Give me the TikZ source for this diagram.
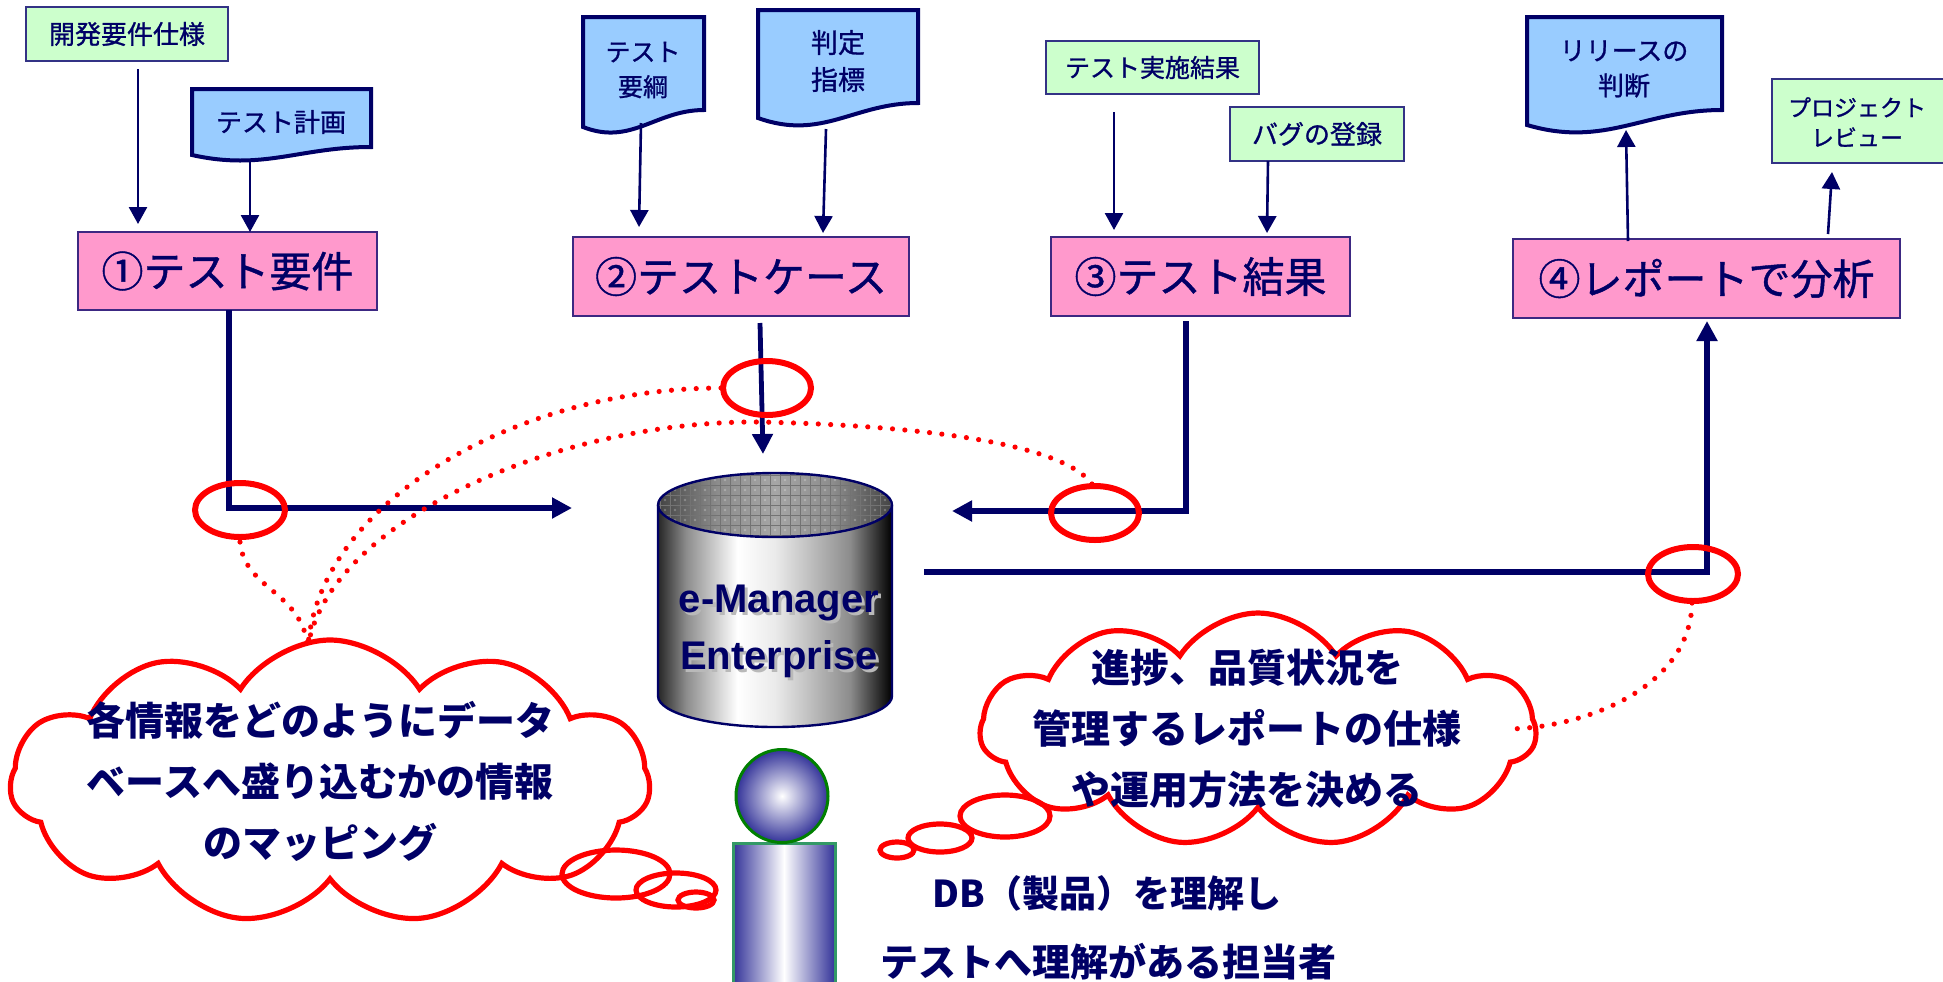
\documentclass[tikz,border=0pt]{standalone}
\usepackage{fontspec}
\usetikzlibrary{arrows.meta,shapes.symbols,shapes.geometric,fit,calc}
\newfontfamily\jp{Noto Sans CJK JP}
\newfontfamily\jpm[FakeBold=1.0]{Noto Sans CJK JP}
\newfontfamily\arialf{Liberation Sans}
\definecolor{navy}{RGB}{0,0,102}
\definecolor{pinkfill}{RGB}{255,153,204}
\definecolor{greenfill}{RGB}{204,255,204}
\definecolor{docblue}{RGB}{153,204,255}
\definecolor{personblue}{RGB}{51,51,153}
\definecolor{seagreen}{RGB}{51,153,102}
\definecolor{headgreen}{RGB}{0,128,0}
\definecolor{boxedge}{RGB}{60,40,130}
\pgfdeclarehorizontalshading{cylshade}{100bp}{color(0bp)=(black!85); color(25bp)=(black!85); color(31bp)=(black!45); color(42bp)=(white); color(50bp)=(white!92!black); color(66bp)=(black!45); color(75bp)=(black); color(100bp)=(black)}
\pgfdeclarehorizontalshading{lidshade}{100bp}{color(0bp)=(black!75); color(25bp)=(black!75); color(38bp)=(black!45); color(50bp)=(black!35); color(62bp)=(black!45); color(75bp)=(black!75); color(100bp)=(black!75)}

% document symbol with a wavy lower edge: x1, top, x2, left bottom, right bottom, dip
\newcommand\docshape[6]{%
  \filldraw[docstyle] (#1,#2) -- (#3,#2) -- (#3,#5)
    .. controls ({#1+0.6*(#3-#1)},#5) and ({#1+0.4*(#3-#1)},{#4+#6}) .. (#1,#4) -- cycle;}

\begin{document}
\begin{tikzpicture}[x=0.5pt,y=-0.5pt,
  greenbox/.style={draw=navy!80, line width=0.8pt, fill=greenfill, inner sep=0pt},
  pinkbox/.style={draw=boxedge, line width=0.9pt, fill=pinkfill, inner sep=0pt},
  boxtext/.style={text=navy, align=center, inner sep=0pt, font=\jpm\fontsize{13}{17}\selectfont},
  steptext/.style={text=navy, inner sep=0pt, font=\jpm\fontsize{21}{25}\selectfont},
  docstyle/.style={draw=navy, line width=2pt, fill=docblue, line join=miter},
  thinarrow/.style={draw=navy, line width=1.3pt, -{Triangle[width=9pt,length=8.5pt]}},
  thickline/.style={draw=navy, line width=3pt, line join=miter},
  thickarrow/.style={thickline, -{Triangle[width=10pt,length=10pt]}},
  junction/.style={draw=red, line width=3pt},
  dotline/.style={draw=red, line width=2.6pt, line cap=round, dash pattern=on 0pt off 6.2pt},
  thought/.style={cloud, cloud puffs=11, cloud puff arc=115, cloud ignores aspect,
    draw=red, fill=white, line width=2.6pt, inner sep=0pt},
  bubble/.style={draw=red, line width=2.6pt},
  cloudtext/.style={text=navy, align=center, inner sep=0pt,
    font=\jp\bfseries\fontsize{19.5}{30.5}\selectfont},
  persontext/.style={text=navy, inner sep=0pt, font=\jp\bfseries\fontsize{18.5}{22}\selectfont}
]
\useasboundingbox (0,0) rectangle (1943,981);
\fill[white] (0,0) rectangle (1943,981);

% ---------- inputs and outputs ----------
\node[greenbox, fit={(26,7) (228,61)}] (spec) {};
\node[boxtext] at (spec.center) {開発要件仕様};

\docshape{192}{89}{371}{155}{147}{16}
\node[boxtext] (plan) at (281,122) {テスト計画};

\docshape{583}{17}{704}{127}{110}{19}
\node[boxtext, font=\jpm\fontsize{12.5}{17.5}\selectfont] (outline) at (643,70) {テスト\\要綱};

\docshape{758}{10}{918}{118}{103}{23}
\node[boxtext, font=\jpm\fontsize{13.5}{18.5}\selectfont] (criteria) at (838,61) {判定\\指標};

\node[greenbox, fit={(1046,41) (1259,94)}] (exec) {};
\node[boxtext, font=\jpm\fontsize{12.5}{16}\selectfont] at (exec.center) {テスト実施結果};

\node[greenbox, fit={(1230,107) (1404,161)}] (bug) {};
\node[boxtext] at (bug.center) {バグの登録};

\docshape{1527}{17}{1722}{125}{110}{23}
\node[boxtext, font=\jpm\fontsize{13}{17.5}\selectfont] (release) at (1624,69) {リリースの\\判断};

\node[greenbox, fit={(1772,79) (1950,163)}] (review) {};
\node[boxtext, font=\jpm\fontsize{11.5}{15}\selectfont] at (1857,122) {プロジェクト\\レビュー};

% ---------- four steps ----------
\node[pinkbox, fit={(78,232) (377,310)}] (s1) {};
\node[steptext] at (s1.center) {①テスト要件};
\node[pinkbox, fit={(573,237) (909,316)}] (s2) {};
\node[steptext] at (s2.center) {②テストケース};
\node[pinkbox, fit={(1051,237) (1350,316)}] (s3) {};
\node[steptext] at (s3.center) {③テスト結果};
\node[pinkbox, fit={(1513,239) (1900,318)}] (s4) {};
\node[steptext] at (s4.center) {④レポートで分析};

% ---------- thin arrows ----------
\coordinate (a1s) at (138,69);   \coordinate (a1e) at (138,224);
\coordinate (a2s) at (250,162);  \coordinate (a2e) at (250,232);
\coordinate (a3s) at (641,123);  \coordinate (a3e) at (639,227);
\coordinate (a4s) at (826,129);  \coordinate (a4e) at (823,233);
\coordinate (a5s) at (1114,112); \coordinate (a5e) at (1114,230);
\coordinate (a6s) at (1268,161); \coordinate (a6e) at (1267,233);
\coordinate (a7s) at (1628,241); \coordinate (a7e) at (1626,130);
\coordinate (a8s) at (1828,234); \coordinate (a8e) at (1832,172);
\foreach \k in {1,...,8} \draw[thinarrow] (a\k s) -- (a\k e);

% ---------- database ----------
\shade[shading=cylshade] (658,505) -- (658,696)
  arc[start angle=180, end angle=0, x radius=117, y radius=31] -- (892,505) -- cycle;
\begin{scope}
  \clip (775,505) ellipse[x radius=117, y radius=32];
  \shade[shading=lidshade] (655,470) rectangle (895,540);
  \foreach \i in {0,...,24} \draw[black!55, line width=0.45pt] ({660+10*\i},470) -- ++(0,72);
  \foreach \j in {0,...,7} \draw[black!55, line width=0.45pt] (655,{475+10*\j}) -- ++(240,0);
  \foreach \i in {0,...,23} \foreach \j in {0,...,6}
    \fill[white, opacity=0.25] ({665+10*\i},{480+10*\j}) circle[radius=1.4];
\end{scope}
\draw[navy, line width=1.2pt] (658,505) -- (658,696)
  arc[start angle=180, end angle=0, x radius=117, y radius=31] -- (892,505);
\draw[navy, line width=1.2pt] (775,505) ellipse[x radius=117, y radius=32];
\node[text=gray!55, align=center, inner sep=0pt, font=\arialf\bfseries\fontsize{20}{28.5}\selectfont]
  at (782,634) {e-Manager\\Enterprise};
\node[text=navy, align=center, inner sep=0pt, font=\arialf\bfseries\fontsize{20}{28.5}\selectfont]
  (db) at (779,631) {e-Manager\\Enterprise};

% ---------- data flows to and from the database ----------
\coordinate (l1s) at (229,310); \coordinate (l1c) at (229,508); \coordinate (l1e) at (572,508);
\draw[thickarrow] (l1s) -- (l1c) -- (l1e);
\coordinate (l2s) at (760,323); \coordinate (l2e) at (763,454);
\draw[thickarrow, line width=2.4pt] (l2s) -- (l2e);
\coordinate (l3s) at (1186,321); \coordinate (l3c) at (1186,511); \coordinate (l3e) at (952,511);
\draw[thickarrow] (l3s) -- (l3c) -- (l3e);
\coordinate (l4s) at (924,572); \coordinate (l4c) at (1707,572); \coordinate (l4e) at (1707,321);
\draw[thickarrow] (l4s) -- (l4c) -- (l4e);

% ---------- highlighted junctions ----------
\draw[junction] (240,510) ellipse[x radius=45, y radius=27];
\draw[junction] (767,388) ellipse[x radius=44, y radius=27];
\draw[junction] (1095,513) ellipse[x radius=44, y radius=27];
\draw[junction] (1693,574) ellipse[x radius=45, y radius=27];

% ---------- person ----------
\shade[left color=personblue, right color=personblue, middle color=white] (733,843) rectangle (835,995);
\draw[seagreen, line width=1.5pt] (733,995) -- (733,843) -- (835,843) -- (835,995);
\shade[inner color=white, outer color=personblue] (782,796) ellipse[x radius=46, y radius=46.5];
\draw[headgreen, line width=1.5pt] (782,796) ellipse[x radius=46, y radius=46.5];
\node[persontext] (dbtxt) at (1107,893) {DB（製品）を理解し};
\node[persontext, font=\jp\bfseries\fontsize{19}{22}\selectfont] (staff) at (1108,962) {テストへ理解がある担当者};

% ---------- thoughts ----------
\node[thought, minimum width=320pt, minimum height=142pt] (cloudL) at (330,782) {};
\node[cloudtext] at (320,781) {各情報をどのようにデータ\\ベースへ盛り込むかの情報\\のマッピング};
\draw[bubble] (616,874) ellipse[x radius=54, y radius=24];
\draw[bubble] (676,890) ellipse[x radius=40, y radius=17];
\draw[bubble] (696,900) ellipse[x radius=18, y radius=8];

\node[thought, minimum width=278pt, minimum height=117pt] (cloudR) at (1258,730) {};
\node[cloudtext] at (1247,729) {進捗、品質状況を\\管理するレポートの仕様\\や運用方法を決める};
\draw[bubble] (1005,816) ellipse[x radius=45, y radius=21];
\draw[bubble] (940,838) ellipse[x radius=32, y radius=14];
\draw[bubble] (897,850) ellipse[x radius=17, y radius=8];

% ---------- dotted links from junctions to thoughts ----------
\coordinate (cl) at (308,646);
\draw[dotline] (240,542) .. controls (245,590) and (300,590) .. (cl);
\draw[dotline] (721,388) .. controls (520,388) and (320,500) .. (cl);
\draw[dotline] (1092,484) .. controls (1060,440) and (900,425) .. (760,422)
  .. controls (560,420) and (330,520) .. (cl);
\draw[dotline] (1692,603) .. controls (1690,690) and (1580,729) .. (1505,729);
\end{tikzpicture}
\end{document}
